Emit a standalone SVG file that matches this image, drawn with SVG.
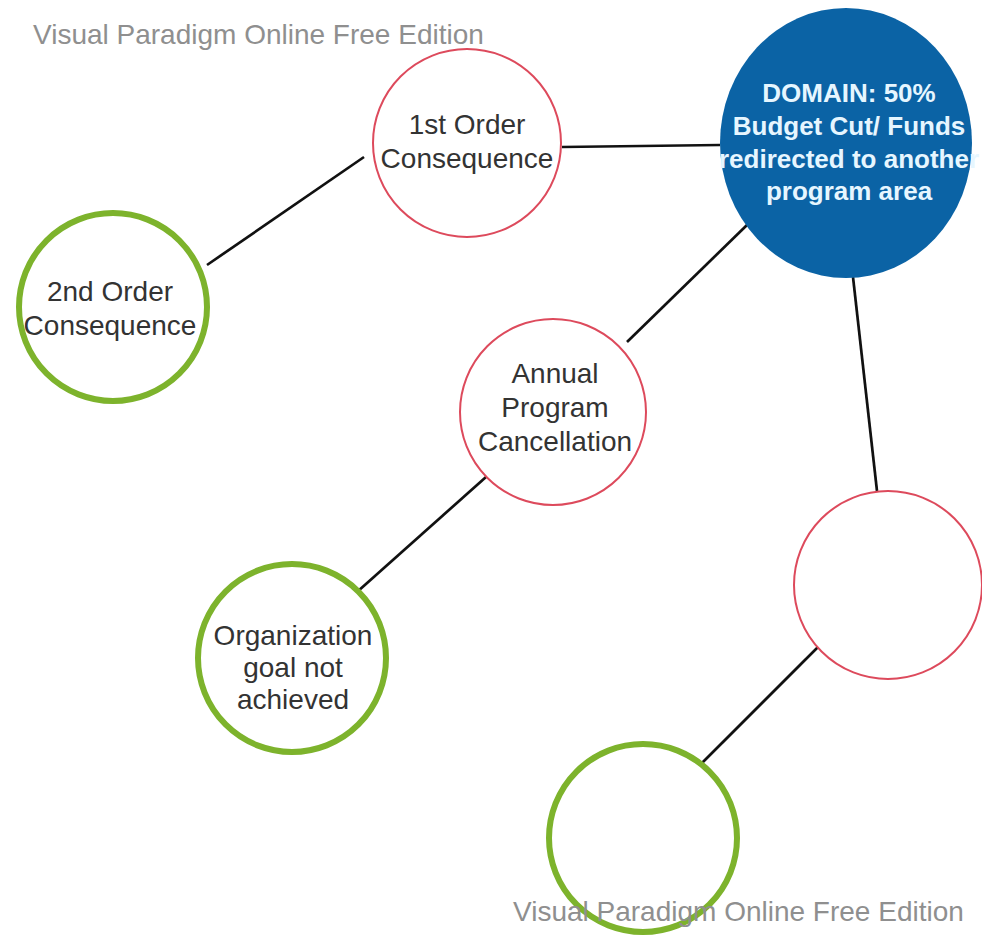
<svg xmlns="http://www.w3.org/2000/svg" width="982" height="936" viewBox="0 0 982 936">
<style>
.red{fill:#fff;stroke:#dd4a5c;stroke-width:2}
.green{fill:#fff;stroke:#7db32c;stroke-width:6}
.blue{fill:#0b63a5;stroke:none}
.lbl{font-family:"Liberation Sans",Arial,sans-serif;font-size:28px;fill:#333;text-anchor:middle}
.dom{font-family:"Liberation Sans",Arial,sans-serif;font-size:26px;font-weight:bold;fill:#e6f6ff;text-anchor:middle}
.wm{font-family:"Liberation Sans",Arial,sans-serif;font-size:28px;fill:#8f8f8f}
.edge{stroke:#111;stroke-width:2.7;fill:none}
</style>
<rect width="982" height="936" fill="#fff"/>
<text class="wm" x="33" y="44">Visual Paradigm Online Free Edition</text>
<g id="connectors">
<line class="edge" x1="364" y1="157" x2="207" y2="265"/>
<line class="edge" x1="562" y1="147" x2="720" y2="145"/>
<line class="edge" x1="747" y1="225" x2="627" y2="342"/>
<line class="edge" x1="853" y1="277" x2="877" y2="491"/>
<line class="edge" x1="486" y1="477" x2="357" y2="592"/>
<line class="edge" x1="820" y1="645" x2="702" y2="763"/>
</g>
<g id="domain">
<ellipse class="blue" cx="846" cy="143" rx="126" ry="135"/>
<text class="dom" x="849" y="102">DOMAIN: 50%</text>
<text class="dom" x="849" y="135">Budget Cut/ Funds</text>
<text class="dom" x="849" y="168">redirected to another</text>
<text class="dom" x="849" y="200">program area</text>
</g>
<g id="first-order">
<circle class="red" cx="467" cy="143" r="94"/>
<text class="lbl" x="467" y="134">1st Order</text>
<text class="lbl" x="467" y="168">Consequence</text>
</g>
<g id="second-order">
<circle class="green" cx="113" cy="307" r="94"/>
<text class="lbl" x="110" y="301">2nd Order</text>
<text class="lbl" x="110" y="335">Consequence</text>
</g>
<g id="annual">
<circle class="red" cx="553" cy="412" r="93"/>
<text class="lbl" x="555" y="383">Annual</text>
<text class="lbl" x="555" y="417">Program</text>
<text class="lbl" x="555" y="451">Cancellation</text>
</g>
<g id="empty-red">
<circle class="red" cx="888" cy="585" r="94"/>
</g>
<g id="org-goal">
<circle class="green" cx="292" cy="658" r="94"/>
<text class="lbl" x="293" y="645">Organization</text>
<text class="lbl" x="293" y="677">goal not</text>
<text class="lbl" x="293" y="709">achieved</text>
</g>
<g id="empty-green">
<circle class="green" cx="643" cy="838" r="94"/>
</g>
<text class="wm" x="513" y="921">Visual Paradigm Online Free Edition</text>
</svg>
